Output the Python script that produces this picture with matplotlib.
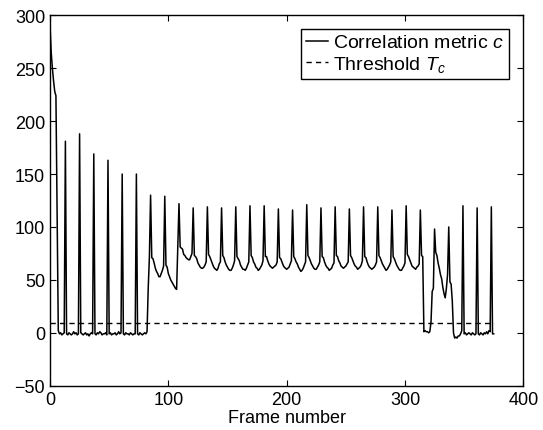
import numpy as np
import matplotlib
matplotlib.use('Agg')
import matplotlib.pyplot as plt

plt.rcParams['font.family'] = ['Liberation Sans', 'DejaVu Sans']
plt.rcParams['mathtext.fontset'] = 'custom'
plt.rcParams['mathtext.rm'] = 'Liberation Sans'
plt.rcParams['mathtext.it'] = 'Liberation Sans:italic'

# correlation metric c, one value per frame (frames 0..375), 12 frames per row
corr = [
    291, 265, 250, 238, 228, 224, 110, 2, -1, 0, -2, -1,
    0, 181, -1, -2, 0, -1, -2, -1, 1, -1, 0, -2,
    -1, 188, 0, -1, -2, -1, 0, -2, -1, -3, -1, 0,
    -1, 169, -1, -2, 0, -1, 1, 0, -2, -1, -1, 0,
    -2, 163, -1, 0, -2, -1, -1, 0, -2, -1, 1, -1,
    0, 150, -1, -2, 0, -1, -1, -2, 0, -1, -2, -1,
    -1, 150, -1, -2, 0, -1, -2, -1, 0, -1, 1, 42,
    72, 130, 71, 70, 66, 61, 58, 56, 53, 53, 56, 59,
    63, 129, 64, 62, 56, 53, 50, 48, 46, 44, 42, 41,
    80, 122, 81, 80, 79, 74, 73, 71, 70, 69, 69, 72,
    75, 118, 73, 72, 70, 66, 64, 62, 61, 61, 62, 64,
    67, 119, 74, 72, 69, 66, 63, 61, 60, 59, 61, 65,
    67, 118, 73, 71, 67, 64, 62, 60, 59, 59, 61, 64,
    68, 119, 72, 70, 68, 64, 62, 60, 60, 59, 61, 64,
    67, 120, 73, 71, 67, 65, 62, 61, 59, 60, 62, 64,
    68, 120, 72, 72, 68, 65, 63, 62, 61, 62, 63, 64,
    67, 117, 71, 70, 67, 64, 62, 61, 60, 61, 62, 65,
    68, 116, 72, 70, 67, 65, 62, 60, 58, 59, 61, 64,
    67, 121, 73, 71, 68, 65, 63, 61, 60, 60, 62, 64,
    67, 118, 72, 71, 67, 64, 62, 61, 59, 60, 61, 64,
    66, 119, 73, 72, 68, 66, 63, 62, 61, 62, 63, 65,
    67, 117, 73, 71, 68, 65, 63, 62, 60, 61, 62, 64,
    68, 119, 72, 71, 67, 64, 62, 61, 60, 61, 62, 64,
    67, 119, 73, 71, 68, 65, 63, 61, 59, 60, 62, 64,
    67, 116, 72, 70, 67, 64, 62, 60, 59, 59, 61, 63,
    66, 120, 74, 72, 69, 66, 63, 62, 61, 60, 62, 63,
    65, 116, 73, 72, 1, 2, 1, 1, 0, 1, 10, 39,
    42, 98, 76, 73, 66, 61, 55, 51, 43, 37, 33, 42,
    55, 100, 48, 46, 30, 0, -5, -4, -5, -3, -3, -1,
    2, 120, -1, 0, -2, -1, 0, -1, -2, 0, -1, -2,
    -1, 118, -1, -2, 0, -1, -2, 0, -1, 1, -1, 2,
    1, 119, -1, -1,
]
frames = np.arange(len(corr))
threshold = 9

xticks = [0, 100, 200, 300, 400]
yticks = [-50, 0, 50, 100, 150, 200, 250, 300]

fig = plt.figure(figsize=(5.43, 4.31), dpi=100)
ax = fig.add_axes([0.0921, 0.1028, 0.8716, 0.8594])

ax.plot(frames, corr, 'k-', lw=1.1, label='Correlation metric $c$')
ax.plot(frames, np.full(len(frames), threshold), color='k', lw=1.0,
        linestyle=(0, (3.8, 3.0)), label='Threshold $T_c$')

ax.set_xlim(0, 400)
ax.set_ylim(-50, 300)
ax.set_xticks(xticks)
ax.set_yticks(yticks)
ax.tick_params(direction='in', length=4, width=0.8, top=True, right=True,
               labelsize=13, pad=3.5)
for s in ax.spines.values():
    s.set_linewidth(1.0)
ax.set_xlabel('Frame number', fontsize=13, labelpad=1)

leg = ax.legend(loc='upper right', bbox_to_anchor=(0.970, 0.963),
                borderaxespad=0, fontsize=14, fancybox=False,
                edgecolor='k', framealpha=1, handlelength=1.1,
                handletextpad=0.3, borderpad=0.25, labelspacing=0.12)
leg.get_frame().set_linewidth(1.0)

plt.savefig('out.png', dpi=100)
